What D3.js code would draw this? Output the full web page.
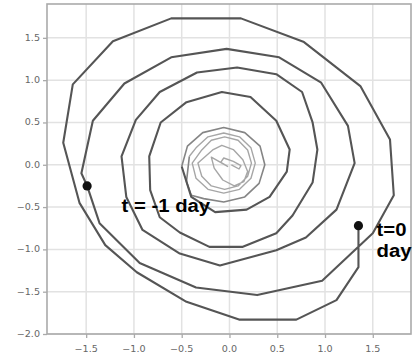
<!DOCTYPE html>
<html>
<head>
<meta charset="utf-8">
<script src="https://cdn.jsdelivr.net/npm/d3@7"></script>
<style>
  html, body { margin: 0; padding: 0; background: #fff; }
  svg { display: block; }
</style>
</head>
<body>
<svg id="chart" width="416" height="357"></svg>
<script>
// Phase trajectory in three stretches, from the core outward to t = 0.
// Core: the tight wiggle and the two smallest turns.
const coreX = [0.02, 0.10, 0.12, 0.04, -0.06, -0.09, -0.02,
  -0.19, -0.16, -0.07, 0.05, 0.15, 0.19, 0.14, 0.04, -0.08, -0.17,
  -0.33, -0.29, -0.19, -0.05, 0.09, 0.19, 0.23, 0.19, 0.09, -0.05, -0.19, -0.29,
  -0.39, -0.35, -0.225, -0.06, 0.105, 0.225, 0.27, 0.225, 0.105, -0.06, -0.225, -0.35, -0.42];
const coreY = [0.00, -0.05, -0.01, 0.04, 0.08, 0.03, -0.02,
  0.09, -0.04, -0.18, -0.25, -0.20, -0.08, 0.06, 0.18, 0.23, 0.18,
  0.02, -0.135, -0.25, -0.29, -0.25, -0.135, 0.02, 0.175, 0.29, 0.33, 0.29, 0.175,
  0.02, -0.16, -0.29, -0.335, -0.29, -0.16, 0.02, 0.20, 0.33, 0.375, 0.33, 0.20, 0.10];
// Next turn out
const ringX = [-0.42, -0.45, -0.40, -0.27, -0.06, 0.16, 0.31, 0.37, 0.32, 0.16, -0.06, -0.28, -0.44, -0.50];
const ringY = [0.10, -0.20, -0.36, -0.40, -0.44, -0.38, -0.22, 0.00, 0.22, 0.38, 0.44, 0.38, 0.22, -0.02];
// Outer turns up to t = 0
const outerX = [-0.50, -0.40, -0.15, 0.18, 0.42, 0.60, 0.63, 0.49, 0.22, -0.08, -0.45, -0.72, -0.84, -0.83, -0.73, -0.52, -0.21, 0.14, 0.49, 0.66, 0.87, 0.92, 0.87, 0.76, 0.49, 0.08, -0.34, -0.73, -0.98, -1.13, -1.08, -0.91, -0.52, -0.10, 0.49, 0.80, 1.12, 1.31, 1.24, 0.96, 0.52, -0.03, -0.61, -1.10, -1.43, -1.55, -1.49, -1.36, -0.94, -0.35, 0.29, 0.97, 1.50, 1.72, 1.68, 1.37, 0.78, 0.12, -0.61, -1.22, -1.64, -1.74, -1.57, -1.30, -0.97, -0.45, 0.10, 0.70, 1.12, 1.35, 1.35];
const outerY = [-0.02, -0.38, -0.56, -0.53, -0.38, -0.08, 0.18, 0.52, 0.80, 0.86, 0.74, 0.50, 0.10, -0.30, -0.62, -0.80, -0.97, -0.97, -0.81, -0.60, -0.21, 0.18, 0.50, 0.86, 1.07, 1.15, 1.09, 0.86, 0.53, 0.10, -0.38, -0.77, -1.05, -1.19, -1.01, -0.86, -0.53, 0.02, 0.46, 0.97, 1.27, 1.37, 1.27, 0.96, 0.52, -0.10, -0.25, -0.69, -1.16, -1.45, -1.54, -1.37, -0.81, -0.36, 0.30, 0.93, 1.45, 1.73, 1.73, 1.46, 0.95, 0.26, -0.45, -0.95, -1.27, -1.62, -1.83, -1.83, -1.60, -1.21, -0.72];

// Marked instants on the trajectory
const markLabels = ["t = -1 day", "t=0 day"];
const markX = [-1.49, 1.35];
const markY = [-0.25, -0.72];

const xTicks = [-1.5, -1.0, -0.5, 0.0, 0.5, 1.0, 1.5];
const yTicks = [-2.0, -1.5, -1.0, -0.5, 0.0, 0.5, 1.0, 1.5];

const svg = d3.select("#chart");
const pL = 47, pR = 411, pT = 4, pB = 334;
const stretch = 1.13;

const x = d3.scaleLinear().domain([-1.91, 1.90]).range([pL, pR]);
const y = d3.scaleLinear().domain([-2.0, 1.90]).range([pB, pT]);

// Grid
const grid = svg.append("g");
grid.selectAll("line.gx").data(xTicks).join("line")
  .attr("class", "gx")
  .attr("x1", d => x(d)).attr("x2", d => x(d))
  .attr("y1", pT).attr("y2", pB)
  .attr("stroke", "#e2e2e2").attr("stroke-width", 1.5);
grid.selectAll("line.gy").data(yTicks).join("line")
  .attr("class", "gy")
  .attr("x1", pL).attr("x2", pR)
  .attr("y1", d => y(d)).attr("y2", d => y(d))
  .attr("stroke", "#e2e2e2").attr("stroke-width", 1.5);

// Axes with ticks; labels drawn separately so they can be widened
const fmt = d3.format(".1f");
const xAxis = svg.append("g").attr("transform", `translate(0,${pB})`)
  .call(d3.axisBottom(x).tickValues(xTicks).tickSize(4).tickFormat(""));
const yAxis = svg.append("g").attr("transform", `translate(${pL},0)`)
  .call(d3.axisLeft(y).tickValues(yTicks).tickSize(4).tickFormat(""));
[xAxis, yAxis].forEach(a => {
  a.select(".domain").remove();
  a.selectAll(".tick line").attr("stroke", "#aaa").attr("stroke-width", 1.3);
});

svg.append("g").selectAll("text").data(xTicks).join("text")
  .attr("transform", d => `translate(${x(d)},352) scale(${stretch},1)`)
  .attr("text-anchor", "middle")
  .attr("font-family", "DejaVu Sans").attr("font-size", 8.5)
  .attr("fill", "#666")
  .text(d => fmt(d).replace("-", "\u2212"));

svg.append("g").selectAll("text").data(yTicks).join("text")
  .attr("transform", d => `translate(40,${y(d) + 3}) scale(${stretch},1)`)
  .attr("text-anchor", "end")
  .attr("font-family", "DejaVu Sans").attr("font-size", 8.5)
  .attr("fill", "#666")
  .text(d => fmt(d).replace("-", "\u2212"));

// Frame
svg.append("rect")
  .attr("x", pL).attr("y", pT)
  .attr("width", pR - pL).attr("height", pB - pT)
  .attr("fill", "none").attr("stroke", "#aaa").attr("stroke-width", 1.6);

// Trajectory
const line = d3.line().x(d => x(d[0])).y(d => y(d[1]));
const pts = (xs, ys) => xs.map((v, i) => [v, ys[i]]);

svg.append("path").datum(pts(coreX, coreY))
  .attr("d", line)
  .attr("fill", "none").attr("stroke", "#a6a6a6").attr("stroke-width", 1.4)
  .attr("stroke-linejoin", "round");

svg.append("path").datum(pts(ringX, ringY).concat([[outerX[0], outerY[0]]]))
  .attr("d", line)
  .attr("fill", "none").attr("stroke", "#858585").attr("stroke-width", 1.6)
  .attr("stroke-linejoin", "round");

svg.append("path").datum(pts(outerX, outerY))
  .attr("d", line)
  .attr("fill", "none").attr("stroke", "#555").attr("stroke-width", 2.1)
  .attr("stroke-linejoin", "round");

// Marker dots
svg.append("g").selectAll("circle").data(markX).join("circle")
  .attr("cx", d => x(d)).attr("cy", (d, i) => y(markY[i]))
  .attr("r", 4.6).attr("fill", "#111");

// Annotations
const ann = svg.append("g")
  .attr("font-family", "Liberation Sans, Arial, sans-serif")
  .attr("font-weight", "bold").attr("font-size", 18).attr("fill", "#000");

ann.append("text")
  .attr("transform", `translate(${x(-1.13)},${y(-0.555)}) scale(${stretch},1)`)
  .text(markLabels[0]);

const t0 = ann.append("text")
  .attr("transform", `translate(${x(1.54)},${y(-0.84)}) scale(${stretch},1)`);
const parts = markLabels[1].split(" ");
t0.append("tspan").attr("x", 0).attr("dy", 0).text(parts[0]);
t0.append("tspan").attr("x", 0).attr("dy", 21).text(parts[1]);
</script>
</body>
</html>
